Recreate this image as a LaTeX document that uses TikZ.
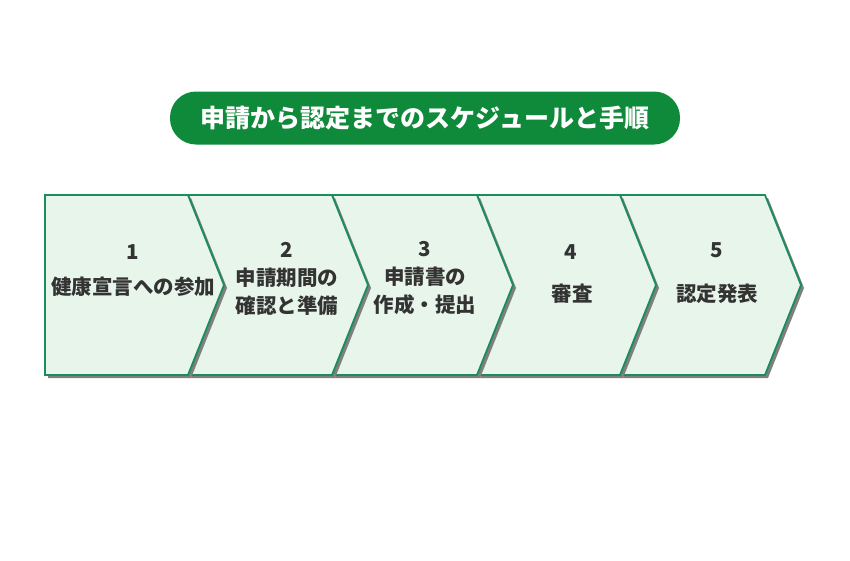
\documentclass[tikz,border=0pt]{standalone}
\usepackage{fontspec}
\setmainfont{Noto Sans CJK JP}
\definecolor{pillgreen}{HTML}{0E8A3A}
\definecolor{edgegreen}{HTML}{1B8C5E}
\definecolor{stepfill}{HTML}{E8F5EA}
\definecolor{shadowgray}{HTML}{7F7F7F}
\definecolor{txt}{HTML}{333333}
\begin{document}
\begin{tikzpicture}[x=1pt,y=-1pt,
  chev/.style={fill=stepfill,draw=edgegreen,line width=1.8pt,line join=miter},
  chevshadow/.style={fill=shadowgray,draw=none},
  numtext/.style={font=\bfseries\fontsize{20.5}{24}\selectfont,text=txt,inner sep=0pt},
  steptext/.style={font=\bfseries\fontsize{20.5}{28}\selectfont,text=txt,inner sep=0pt,align=center},
  title/.style={fill=pillgreen,rounded corners=26pt,minimum width=510pt,minimum height=53pt,text=white,font=\bfseries\fontsize{25}{28}\selectfont}]
\useasboundingbox (0,0) rectangle (850,560);
% chevrons drawn from last to first so that shadows fall over the next step
\foreach \L/\R/\T/\P in {620/765/801/656, 477/620/656/513, 332/477/513/368, 188/332/368/224}{
  \fill[chevshadow] (\L+3,198) -- (\R+3,198) -- (\T+3,288) -- (\R+3,378) -- (\L+3,378) -- (\P+3,288) -- cycle;
  \draw[chev] (\L,195) -- (\R,195) -- (\T,285) -- (\R,375) -- (\L,375) -- (\P,285) -- cycle;
}
\fill[chevshadow] (48,198) -- (191,198) -- (227,288) -- (191,378) -- (48,378) -- cycle;
\draw[chev] (45,195) -- (188,195) -- (224,285) -- (188,375) -- (45,375) -- cycle;
\node[title] (t) at (425,118) {申請から認定までのスケジュールと手順};
\node[numtext] (n1) at (133,252) {1};
\node[steptext] (s1) at (133,287) {健康宣言への参加};
\node[numtext] (n2) at (287,250) {2};
\node[steptext] (s2) at (287,292) {申請期間の\\確認と準備};
\node[numtext] (n3) at (425,249) {3};
\node[steptext] (s3) at (425,291) {申請書の\\作成・提出};
\node[numtext] (n4) at (571,252) {4};
\node[steptext] (s4) at (572,294) {審査};
\node[numtext] (n5) at (717,250) {5};
\node[steptext] (s5) at (717,294) {認定発表};
\end{tikzpicture}
\end{document}
